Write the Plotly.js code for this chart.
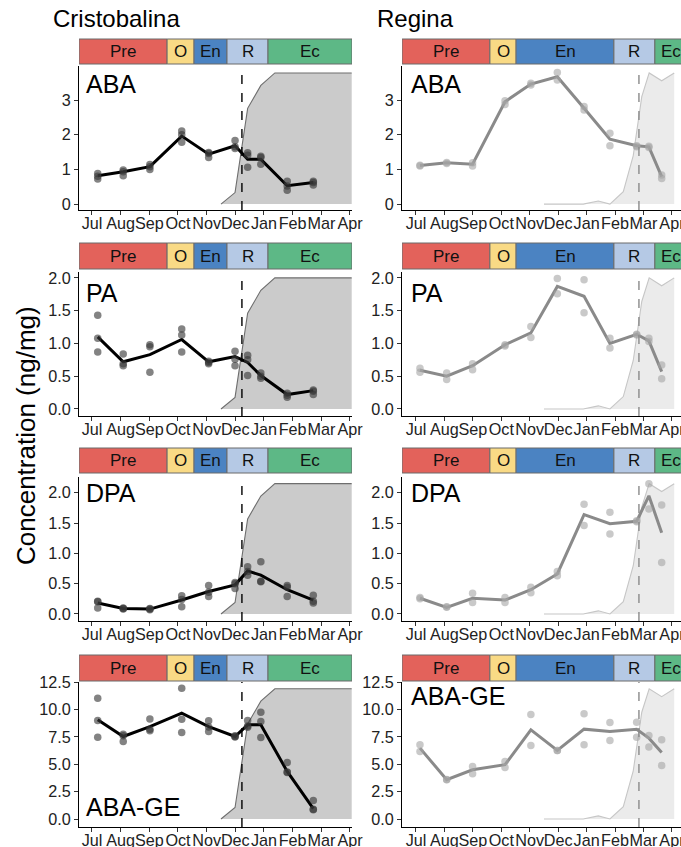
<!DOCTYPE html>
<html><head><meta charset="utf-8">
<script src="https://cdn.plot.ly/plotly-3.0.1.min.js"></script>
<style>html,body{margin:0;padding:0;overflow:hidden;background:#fff}#chart{width:700px;height:847px}</style>
</head><body><div id="chart"></div>
<script>
// ---------- DATA ----------
const months = ['Jul','Aug','Sep','Oct','Nov','Dec','Jan','Feb','Mar','Apr'];
const monthTicks = [0,1,2,3,4,5,6,7,8,9];
const sites = ['Cristobalina','Regina'];
const compounds = ['ABA','PA','DPA','ABA-GE'];
const phases = ['Pre','O','En','R','Ec'];

// phase boundaries (month index units, Jul = 0)
const crisPhaseEdges = [-0.45, 2.62, 3.56, 4.71, 6.14, 9.07];
const reginaPhaseEdges = [-0.49, 2.60, 3.52, 6.96, 8.40, 9.53];
// dormancy release date (dashed line)
const crisRelease = 5.23;
const reginaRelease = 7.84;

// sampling dates
const crisDates = [0.20, 1.09, 2.02, 3.13, 4.07, 4.99, 5.43, 5.89, 6.81, 7.72];
const reginaDates = [0.14, 1.08, 1.99, 3.13, 4.04, 4.97, 5.91, 6.82, 7.76, 8.19, 8.64];

// Cristobalina means and replicates
const crisABA = [0.82, 0.93, 1.08, 1.96, 1.44, 1.68, 1.29, 1.29, 0.53, 0.62];
const crisABAreps = [[0.88,0.72,0.80],[0.98,0.82,0.93],[1.14,1.00,1.08],[2.11,1.78,2.00],[1.49,1.34,1.46],[1.83,1.65,1.60],[1.48,1.06,1.41],[1.38,1.34,1.15],[0.66,0.40,0.52],[0.66,0.55,0.62]];
const crisPA = [1.10, 0.72, 0.83, 1.06, 0.72, 0.80, 0.71, 0.51, 0.22, 0.28];
const crisPAreps = [[1.43,1.08,0.87],[0.84,0.69,0.66],[0.98,0.95,0.56],[1.22,1.13,0.87],[0.71,0.69,0.73],[0.88,0.66,0.76],[0.82,0.75,0.51],[0.55,0.47,0.50],[0.24,0.18,0.21],[0.29,0.22,0.27]];
const crisDPA = [0.18, 0.09, 0.08, 0.23, 0.37, 0.48, 0.71, 0.64, 0.40, 0.23];
const crisDPAreps = [[0.20,0.10,0.21],[0.10,0.09,0.08],[0.08,0.07,0.09],[0.30,0.12,0.24],[0.47,0.29,0.36],[0.52,0.42,0.50],[0.78,0.64,0.70],[0.86,0.53,0.54],[0.47,0.29,0.44],[0.31,0.18,0.21]];
const crisABAGE = [9.06, 7.54, 8.45, 9.67, 8.45, 7.54, 8.61, 8.61, 4.35, 0.94];
const crisABAGEreps = [[11.04,9.00,7.48],[7.75,7.09,7.60],[9.15,8.06,8.20],[11.95,9.12,7.91],[8.97,8.00,8.40],[7.54,7.50,7.60],[9.00,8.39,8.50],[9.76,8.91,7.45],[5.17,4.26,4.30],[1.70,0.85,0.90]];

// Regina means and replicates
const reginaABA = [1.11, 1.19, 1.15, 2.95, 3.46, 3.67, 2.76, 1.87, 1.68, 1.65, 0.79];
const reginaABAreps = [[1.10,1.12],[1.20,1.17],[1.10,1.19],[2.98,2.87],[3.48,3.43],[3.79,3.58],[2.81,2.71],[2.04,1.68],[1.68,1.65],[1.67,1.63],[0.84,0.74]];
const reginaPA = [0.59, 0.50, 0.66, 0.98, 1.16, 1.87, 1.72, 1.00, 1.14, 1.04, 0.57];
const reginaPAreps = [[0.62,0.56],[0.55,0.45],[0.69,0.60],[0.98,0.96],[1.26,1.09],[1.99,1.76],[1.97,1.47],[1.08,0.93],[1.14,1.13],[1.08,1.03],[0.67,0.46]];
const reginaDPA = [0.26, 0.11, 0.26, 0.23, 0.40, 0.66, 1.64, 1.49, 1.53, 1.95, 1.34];
const reginaDPAreps = [[0.27,0.25],[0.12,0.11],[0.34,0.19],[0.27,0.19],[0.44,0.35],[0.70,0.63],[1.81,1.46],[1.68,1.32],[1.52,1.54],[2.15,1.73],[1.80,0.85]];
const reginaABAGE = [6.48, 3.59, 4.50, 4.96, 8.15, 6.27, 8.21, 8.00, 8.21, 7.39, 6.08];
const reginaABAGEreps = [[6.78,6.17],[3.59,3.60],[4.80,4.14],[5.26,4.71],[9.55,6.72],[6.27,6.25],[9.61,6.78],[8.82,7.18],[8.85,7.48],[7.63,6.57],[7.24,4.90]];

// background area (relative progress, scaled to each row's max)
const crisAreaX = [4.50, 4.99, 5.43, 5.89, 6.38, 9.06];
const crisAreaFrac = [0, 0.088, 0.73, 0.905, 1.0, 1.0];
const reginaAreaX = [4.50, 5.88, 6.41, 6.82, 7.29, 7.64, 7.94, 8.20, 8.64, 9.08];
const reginaAreaFrac = [0, 0, 0.024, 0, 0.095, 0.37, 0.82, 1.0, 0.94, 1.0];
const rowAreaMax = [3.78, 2.0, 2.15, 11.9];

// y ticks per row
const rowTicks = [[0,1,2,3],[0,0.5,1,1.5,2],[0,0.5,1,1.5,2],[0,2.5,5,7.5,10,12.5]];
const rowTickFormat = ['d','.1f','.1f','.1f'];

// ---------- LAYOUT / STYLE ----------
const W = 700, H = 847;
const FONT = 'Liberation Sans, Arial, Helvetica, sans-serif';
const phaseColors = ['#E3625B','#F9DA85','#4B83C2','#B5C9E5','#5DB886'];
const colPx = [[79,352],[402,687]];
const xRanges = [[-0.453,9.07],[-0.492,9.53]];
const rowPlotPx = [[66,210],[272,416],[477,621],[682,827]];
const rowBarPx = [[39,64],[243,269],[448,473],[655,681]];
const yRanges = [[-0.17,3.98],[-0.107,2.09],[-0.116,2.26],[-0.73,12.52]];
const labelPos = [ // [left center y, right center y]
  [84,84],[293,293],[493,493],[807,696]
];

const siteData = [
  {dates: crisDates, edges: crisPhaseEdges, release: crisRelease, areaX: crisAreaX, areaFrac: crisAreaFrac,
   means: [crisABA, crisPA, crisDPA, crisABAGE], reps: [crisABAreps, crisPAreps, crisDPAreps, crisABAGEreps],
   line: '#000000', pts: 'rgba(55,55,55,0.62)', dash: '#000000', areaFill: '#CBCBCB', areaLine: '#6E6E6E'},
  {dates: reginaDates, edges: reginaPhaseEdges, release: reginaRelease, areaX: reginaAreaX, areaFrac: reginaAreaFrac,
   means: [reginaABA, reginaPA, reginaDPA, reginaABAGE], reps: [reginaABAreps, reginaPAreps, reginaDPAreps, reginaABAGEreps],
   line: '#8A8A8A', pts: 'rgba(165,165,165,0.6)', dash: '#8A8A8A', areaFill: '#EBEBEB', areaLine: '#C6C6C6'}
];

const traces = [];
const shapes = [];
const annotations = [];
const layout = {
  width: W, height: H, autosize: false,
  margin: {l:0, r:0, t:0, b:0},
  paper_bgcolor: '#fff', plot_bgcolor: 'rgba(0,0,0,0)',
  showlegend: false,
  font: {family: FONT, color: '#000'}
};

for (let r = 0; r < 4; r++) {
  for (let c = 0; c < 2; c++) {
    const idx = r*2 + c + 1;
    const xa = idx === 1 ? 'x' : 'x' + idx;
    const ya = idx === 1 ? 'y' : 'y' + idx;
    const S = siteData[c];
    const ydom = [1 - rowPlotPx[r][1]/H, 1 - rowPlotPx[r][0]/H];
    layout['xaxis' + (idx===1?'':idx)] = {
      domain: [colPx[c][0]/W, colPx[c][1]/W], range: xRanges[c], anchor: ya,
      tickmode: 'array', tickvals: monthTicks, ticktext: months, tickangle: 0,
      ticks: 'outside', ticklen: 4, tickwidth: 1, tickcolor: '#333', ticklabelstandoff: -6,
      showline: true, linecolor: '#000', linewidth: 1.1, showgrid: false, zeroline: false,
      tickfont: {size: 16.2, color: '#222', family: FONT}, fixedrange: true
    };
    layout['yaxis' + (idx===1?'':idx)] = {
      domain: ydom, range: yRanges[r], anchor: xa,
      tickmode: 'array', tickvals: rowTicks[r], tickformat: rowTickFormat[r],
      ticks: 'outside', ticklen: 4, tickwidth: 1, tickcolor: '#333',
      showline: true, linecolor: '#000', linewidth: 1.1, showgrid: false, zeroline: false,
      tickfont: {size: 16.2, color: '#222', family: FONT}, fixedrange: true
    };
    // area
    traces.push({
      type: 'scatter', mode: 'lines', xaxis: xa, yaxis: ya,
      x: S.areaX, y: S.areaFrac.map(f => f * rowAreaMax[r]),
      fill: 'tozeroy', fillcolor: S.areaFill, line: {color: S.areaLine, width: 1.1},
      hoverinfo: 'skip'
    });
    // mean line
    traces.push({
      type: 'scatter', mode: 'lines', xaxis: xa, yaxis: ya,
      x: S.dates, y: S.means[r], line: {color: S.line, width: 3}
    });
    // replicate points
    const px = [], py = [];
    S.reps[r].forEach((arr, i) => arr.forEach(v => { px.push(S.dates[i]); py.push(v); }));
    traces.push({
      type: 'scatter', mode: 'markers', xaxis: xa, yaxis: ya,
      x: px, y: py, marker: {size: 7.5, color: S.pts, line: {width: 0}}
    });
    // dashed release line
    shapes.push({type: 'line', xref: xa, yref: ya + ' domain', x0: S.release, x1: S.release, y0: 0, y1: 1,
      line: {color: S.dash, width: 1.4, dash: 'dash'}, layer: 'above'});
    // phase bar
    const by0 = 1 - rowBarPx[r][1]/H, by1 = 1 - rowBarPx[r][0]/H;
    for (let p = 0; p < phases.length; p++) {
      shapes.push({type: 'rect', xref: xa, yref: 'paper', x0: S.edges[p], x1: S.edges[p+1], y0: by0, y1: by1,
        fillcolor: phaseColors[p], line: {color: '#6B6B6B', width: 1}, layer: 'above'});
      annotations.push({xref: xa, yref: 'paper', x: (S.edges[p] + S.edges[p+1]) / 2, y: (by0 + by1) / 2,
        text: phases[p], showarrow: false, xanchor: 'center', yanchor: 'middle',
        font: {size: 17, color: '#111', family: FONT}});
    }
    // compound label
    annotations.push({xref: 'paper', yref: 'paper', x: (c === 0 ? 84 : 409) / W, y: 1 - labelPos[r][c]/H,
      text: compounds[r], showarrow: false, xanchor: 'left', yanchor: 'middle',
      font: {size: 25, color: '#000', family: FONT}});
  }
}
// site titles
annotations.push({xref: 'paper', yref: 'paper', x: 51/W, y: 1 - 19/H, text: sites[0], showarrow: false,
  xanchor: 'left', yanchor: 'middle', font: {size: 24, color: '#000', family: FONT}});
annotations.push({xref: 'paper', yref: 'paper', x: 375/W, y: 1 - 19/H, text: sites[1], showarrow: false,
  xanchor: 'left', yanchor: 'middle', font: {size: 24, color: '#000', family: FONT}});
// y title
annotations.push({xref: 'paper', yref: 'paper', x: 26/W, y: 1 - 436/H, text: 'Concentration (ng/mg)', showarrow: false,
  textangle: -90, xanchor: 'center', yanchor: 'middle', font: {size: 26, color: '#000', family: FONT}});

layout.shapes = shapes;
layout.annotations = annotations;
Plotly.newPlot('chart', traces, layout, {displayModeBar: false, staticPlot: true});
</script></body></html>
